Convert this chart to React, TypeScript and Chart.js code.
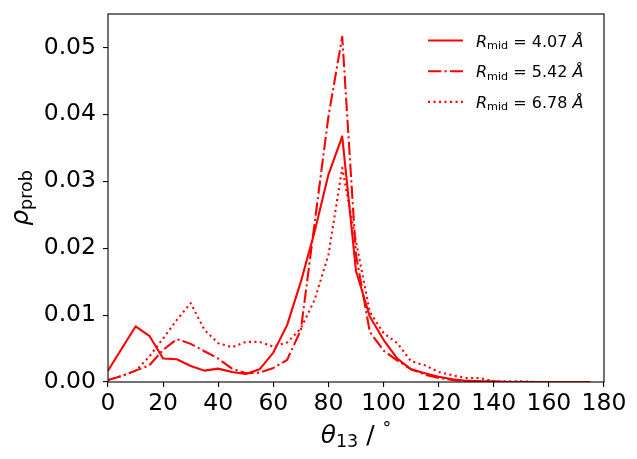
import { useEffect, useRef } from "react";
import { Chart, LineController, LineElement, PointElement, LinearScale } from "chart.js";

Chart.register(LineController, LineElement, PointElement, LinearScale);

// bond angle (deg) and probability density for the three R_mid shells
const angles = [
  0, 5, 10, 15, 20, 25, 30, 35, 40, 45, 50, 55, 60, 65, 70, 75, 80, 85,
  90, 95, 100, 105, 110, 115, 120, 125, 130, 135, 140, 145, 150, 155, 160, 165, 170, 175,
];
const rho407 = [
  0.0017, 0.005, 0.0083, 0.0069, 0.0035, 0.0034, 0.0024, 0.0017, 0.002, 0.0015, 0.0012, 0.0019,
  0.0044, 0.0085, 0.015, 0.0225, 0.031, 0.0367, 0.0166, 0.0098, 0.0063, 0.0035, 0.0019, 0.0013,
  0.0008, 0.0004, 0.0002, 0.0001, 0.0001, 0.0, 0.0, 0.0, 0.0, 0.0, 0.0, 0.0,
];
const rho542 = [
  0.0003, 0.0009, 0.0017, 0.0025, 0.0048, 0.0064, 0.0057, 0.0046, 0.0035, 0.002, 0.0013, 0.0014,
  0.0021, 0.0033, 0.0078, 0.0238, 0.0397, 0.0516, 0.019, 0.0075, 0.0047, 0.0032, 0.0019, 0.0011,
  0.0006, 0.0003, 0.0001, 0.0001, 0.0, 0.0, 0.0, 0.0, 0.0, 0.0, 0.0, 0.0,
];
const rho678 = [
  0.0003, 0.0009, 0.0017, 0.0038, 0.0065, 0.0093, 0.0118, 0.0078, 0.0058, 0.0052, 0.006, 0.006,
  0.0053, 0.0059, 0.008, 0.0123, 0.019, 0.032, 0.021, 0.0105, 0.0073, 0.0058, 0.0031, 0.0025,
  0.0015, 0.001, 0.0006, 0.0006, 0.0001, 0.0001, 0.0001, 0.0, 0.0, 0.0, 0.0, 0.0,
];
const rMid = ["4.07", "5.42", "6.78"];
const xTicks = [0, 20, 40, 60, 80, 100, 120, 140, 160, 180];
const yTicks = [0, 0.01, 0.02, 0.03, 0.04, 0.05];

const FONT = '"DejaVu Sans"';
const RED = "#ff0000";
const LW = 2.08;
const DASHES: number[][] = [[], [13.3, 3.3, 2.1, 3.3], [2.1, 3.4]];

type Run = { t: string; size: number; italic?: boolean; dy?: number };

function runsWidth(ctx: CanvasRenderingContext2D, runs: Run[]) {
  let w = 0;
  for (const r of runs) {
    ctx.font = `${r.italic ? "italic " : ""}${r.size}px ${FONT}`;
    w += ctx.measureText(r.t).width;
  }
  return w;
}

function drawRuns(ctx: CanvasRenderingContext2D, runs: Run[], x: number, y: number) {
  let cx = x;
  for (const r of runs) {
    ctx.font = `${r.italic ? "italic " : ""}${r.size}px ${FONT}`;
    ctx.fillText(r.t, cx, y + (r.dy ?? 0));
    cx += ctx.measureText(r.t).width;
  }
}

const decorations = {
  id: "decorations",
  afterDraw(chart: Chart) {
    const { ctx, chartArea: a } = chart;
    ctx.save();
    // frame
    ctx.strokeStyle = "#000";
    ctx.lineWidth = 1.1;
    ctx.setLineDash([]);
    ctx.strokeRect(a.left, a.top, a.right - a.left, a.bottom - a.top);

    ctx.fillStyle = "#000";
    ctx.textBaseline = "alphabetic";
    ctx.textAlign = "left";

    // x title
    const xRuns: Run[] = [
      { t: "θ", size: 25, italic: true },
      { t: "13", size: 17.5, dy: 4 },
      { t: " / ", size: 25 },
      { t: "°", size: 17.5, dy: -9 },
    ];
    const cx = (a.left + a.right) / 2;
    drawRuns(ctx, xRuns, cx - runsWidth(ctx, xRuns) / 2, 443);

    // y title
    const yRuns: Run[] = [
      { t: "ρ", size: 25, italic: true },
      { t: "prob", size: 17.5, dy: 4 },
    ];
    ctx.save();
    ctx.translate(28, (a.top + a.bottom) / 2);
    ctx.rotate(-Math.PI / 2);
    drawRuns(ctx, yRuns, -runsWidth(ctx, yRuns) / 2, 0);
    ctx.restore();

    // legend
    rMid.forEach((r, i) => {
      const yLine = 40.5 + i * 30.7;
      ctx.strokeStyle = RED;
      ctx.lineWidth = LW;
      ctx.setLineDash(DASHES[i]);
      ctx.beginPath();
      ctx.moveTo(428, yLine);
      ctx.lineTo(463, yLine);
      ctx.stroke();
      ctx.setLineDash([]);
      ctx.fillStyle = "#000";
      drawRuns(
        ctx,
        [
          { t: "R", size: 16, italic: true },
          { t: "mid", size: 11.2, dy: 2.5 },
          { t: ` = ${r} `, size: 16 },
          { t: "Å", size: 16, italic: true },
        ],
        476,
        yLine + 6,
      );
    });
    ctx.restore();
  },
};

const series = [rho407, rho542, rho678];

export default function App() {
  const canvasRef = useRef<HTMLCanvasElement | null>(null);

  useEffect(() => {
    const canvas = canvasRef.current;
    if (!canvas) return;

    const chart = new Chart(canvas, {
      type: "line",
      data: {
        datasets: series.map((vals, i) => ({
          label: `R_mid = ${rMid[i]}`,
          data: angles.map((a, j) => ({ x: a, y: vals[j] })),
          borderColor: RED,
          borderWidth: LW,
          borderDash: DASHES[i],
          borderJoinStyle: "round" as const,
          pointRadius: 0,
          tension: 0,
          fill: false,
        })),
      },
      options: {
        responsive: true,
        maintainAspectRatio: false,
        animation: false,
        layout: { padding: { top: 14, right: 33, left: 0, bottom: 0 } },
        plugins: { legend: { display: false }, tooltip: { enabled: false } },
        scales: {
          x: {
            type: "linear",
            min: 0,
            max: 180,
            afterBuildTicks: (axis) => {
              axis.ticks = xTicks.map((v) => ({ value: v }));
            },
            afterFit: (scale: any) => {
              scale.height = 77;
              scale.paddingLeft = 0;
              scale.paddingRight = 0;
            },
            ticks: {
              color: "#000",
              font: { family: FONT, size: 23.5 },
              padding: 3,
              maxRotation: 0,
              autoSkip: false,
              callback: (v) => String(v),
            },
            grid: {
              drawOnChartArea: false,
              drawTicks: true,
              tickLength: 5,
              color: "#000",
              lineWidth: 1.1,
            },
            border: { display: false },
          },
          y: {
            type: "linear",
            min: 0,
            max: 0.055,
            afterBuildTicks: (axis) => {
              axis.ticks = yTicks.map((v) => ({ value: v }));
            },
            afterFit: (scale: any) => {
              scale.width = 108;
              scale.paddingTop = 0;
              scale.paddingBottom = 0;
            },
            ticks: {
              color: "#000",
              font: { family: FONT, size: 23.5 },
              padding: 7,
              autoSkip: false,
              callback: (v) => Number(v).toFixed(2),
            },
            grid: {
              drawOnChartArea: false,
              drawTicks: true,
              tickLength: 5,
              color: "#000",
              lineWidth: 1.1,
            },
            border: { display: false },
          },
        },
      },
      plugins: [decorations],
    });

    return () => {
      chart.destroy();
    };
  }, []);

  return (
    <div style={{ position: "absolute", left: 0, top: 0, width: 637, height: 459, background: "#fff" }}>
      <canvas ref={canvasRef} />
    </div>
  );
}
